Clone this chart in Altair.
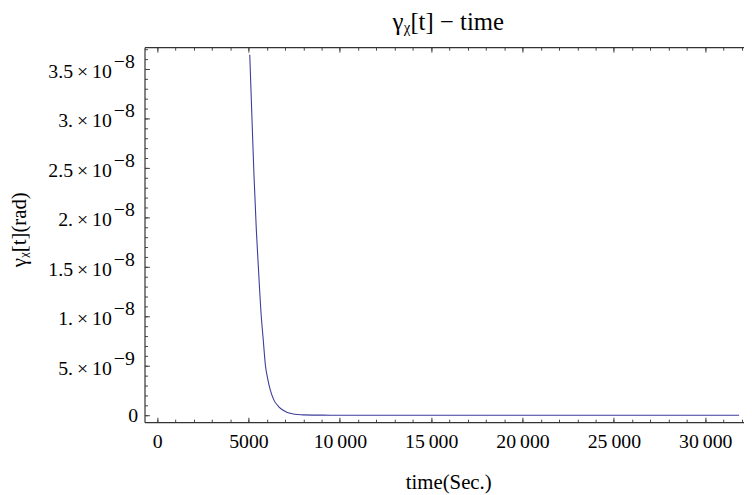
import altair as alt
import pandas as pd

# ---- data ----
t_values = [5070, 5200, 5300, 5430, 5540, 5700, 5800, 5930, 6050, 6200, 6400,
            6660, 6900, 7100, 7400, 7700, 8000, 8500, 9500, 12000, 20000, 31850]
gamma_values = [36.4e-9, 29.5e-9, 24.3e-9, 18.7e-9, 15.0e-9, 10.0e-9, 7.8e-9,
                5.0e-9, 3.7e-9, 2.5e-9, 1.5e-9, 0.85e-9, 0.5e-9, 0.3e-9,
                0.15e-9, 0.07e-9, 0.03e-9, 0.012e-9, 0.003e-9, 0.0, 0.0, 0.0]

x_tick_values = [0, 5000, 10000, 15000, 20000, 25000, 30000]
x_tick_labels = ["0", "5000", "10\u2009000", "15\u2009000", "20\u2009000",
                 "25\u2009000", "30\u2009000"]
x_minor_values = list(range(0, 32001, 1000))

y_tick_values = [0, 5e-9, 1e-8, 1.5e-8, 2e-8, 2.5e-8, 3e-8, 3.5e-8]
y_zero_label = "0"
# labels of the non-zero ticks: mantissa and exponent parts
y_label_values = [5e-9, 1e-8, 1.5e-8, 2e-8, 2.5e-8, 3e-8, 3.5e-8]
y_mantissas = ["5.\u2009×\u200910", "1.\u2009×\u200910", "1.5\u2009×\u200910",
               "2.\u2009×\u200910", "2.5\u2009×\u200910", "3.\u2009×\u200910",
               "3.5\u2009×\u200910"]
y_exponents = ["−9", "−8", "−8", "−8", "−8", "−8", "−8"]
y_minor_values = [i * 1e-9 for i in range(0, 38)]

title_text = "γᵪ[t] − time"
x_title = "time(Sec.)"
y_title = "γᵪ[t](rad)"


def label_expr(values, labels, scale):
    expr = "''"
    for v, l in zip(values, labels):
        expr = f"round(datum.value*{scale}) == {round(v * scale)} ? '{l}' : " + expr
    return expr


FONT = "Liberation Serif"
FRAME = "#333333"
TICK = "#444444"

df = pd.DataFrame({"t": t_values, "g": gamma_values})
lab = pd.DataFrame({"g": y_label_values, "m": y_mantissas, "e": y_exponents})
xscale = alt.Scale(domain=[-690, 32120], nice=False, zero=False)
yscale = alt.Scale(domain=[-7e-10, 3.717e-8], nice=False, zero=False)
base = alt.Chart(df)

main = base.mark_line(color="#3d3d9c", strokeWidth=1.1, interpolate="monotone").encode(
    x=alt.X("t:Q", scale=xscale, axis=alt.Axis(
        orient="bottom", values=x_tick_values,
        labelExpr=label_expr(x_tick_values, x_tick_labels, 1),
        offset=-5, tickSize=5, tickColor=TICK, domain=False, grid=False,
        labelFont=FONT, labelFontSize=20, labelColor="black", labelPadding=10,
        labelFlush=False, labelOverlap=False,
        title=x_title, titleFont=FONT, titleFontSize=21, titleFontWeight="normal",
        titleColor="black", titleX=307, titleY=72, titleBaseline="alphabetic",
        titleAlign="center")),
    y=alt.Y("g:Q", scale=yscale, axis=alt.Axis(
        orient="left", values=y_tick_values,
        labelExpr=label_expr([0], [y_zero_label], 1e10),
        offset=-5, tickSize=5, tickColor=TICK, domain=False, grid=False,
        labelFont=FONT, labelFontSize=20, labelColor="black", labelPadding=7,
        labelBaseline="alphabetic", labelOffset=6,
        labelFlush=False, labelOverlap=False,
        title=y_title, titleFont=FONT, titleFontSize=21, titleFontWeight="normal",
        titleColor="black", titleX=-125, titleY=184, titleAngle=270,
        titleBaseline="alphabetic", titleAlign="center")),
)

mantissa = alt.Chart(lab).mark_text(
    font=FONT, fontSize=20, color="black", align="right", baseline="alphabetic", dy=9
).encode(x=alt.value(-33), y=alt.Y("g:Q", scale=yscale, axis=None), text="m:N")

exponent = alt.Chart(lab).mark_text(
    font=FONT, fontSize=20, color="black", align="left", baseline="alphabetic", dy=-1
).encode(x=alt.value(-31), y=alt.Y("g:Q", scale=yscale, axis=None), text="e:N")


def ghost(xaxis, yaxis):
    enc = {"x": alt.X("t:Q", scale=xscale, axis=xaxis)}
    enc["y"] = alt.Y("g:Q", scale=yscale, axis=yaxis)
    return base.mark_line(strokeOpacity=0).encode(**enc)


minor = ghost(
    alt.Axis(orient="bottom", values=x_minor_values, offset=-3, tickSize=3,
             tickColor=TICK, labels=False, domain=False, grid=False, title=""),
    alt.Axis(orient="left", values=y_minor_values, offset=-3, tickSize=3,
             tickColor=TICK, labels=False, domain=False, grid=False, title=""),
)
top_major = ghost(
    alt.Axis(orient="top", values=x_tick_values, offset=-5, tickSize=5,
             tickColor=TICK, labels=False, domain=False, grid=False, title=""),
    None,
)
top_minor = ghost(
    alt.Axis(orient="top", values=x_minor_values, offset=-3, tickSize=3,
             tickColor=TICK, labels=False, domain=False, grid=False, title=""),
    None,
)
frame_bl = ghost(
    alt.Axis(orient="bottom", ticks=False, labels=False, domain=True,
             domainColor=FRAME, domainWidth=1.2, grid=False, title=""),
    alt.Axis(orient="left", ticks=False, labels=False, domain=True,
             domainColor=FRAME, domainWidth=1.2, grid=False, title=""),
)
frame_top = ghost(
    alt.Axis(orient="top", ticks=False, labels=False, domain=True,
             domainColor=FRAME, domainWidth=1.2, grid=False, title=""),
    None,
)

chart = alt.layer(main, minor, top_major, top_minor, frame_bl, frame_top,
                  mantissa, exponent).resolve_axis(
    x="independent", y="independent"
).properties(
    width=606, height=379,
    padding={"left": 138, "top": 37, "right": 0, "bottom": 70},
    autosize=alt.AutoSizeParams(type="none"),
    title=alt.TitleParams(text=title_text, font=FONT, fontSize=25, fontWeight="normal",
                          color="black", anchor="middle", dx=4, dy=25,
                          baseline="alphabetic", offset=17, frame="group"),
).configure_view(stroke=None)

chart.save("out.html", embed_options={"renderer": "svg", "actions": False})
